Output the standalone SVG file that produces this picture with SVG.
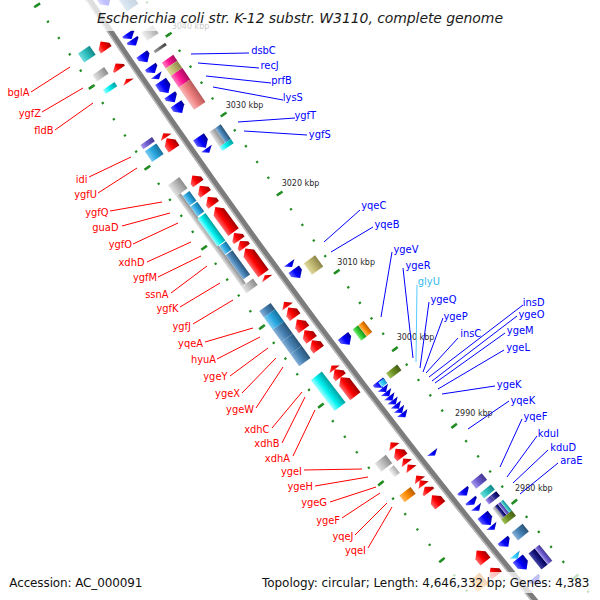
<svg xmlns="http://www.w3.org/2000/svg" width="600" height="600" viewBox="0 0 600 600">
<defs>
<linearGradient id="gR" x1="0" y1="0" x2="1" y2="0"><stop offset="0" stop-color="#ff6a6a"/><stop offset=".45" stop-color="#ff0000"/><stop offset="1" stop-color="#a00000"/></linearGradient>
<linearGradient id="gB" x1="0" y1="0" x2="1" y2="0"><stop offset="0" stop-color="#6060ff"/><stop offset=".45" stop-color="#0000ff"/><stop offset="1" stop-color="#000098"/></linearGradient>
<linearGradient id="gCy" x1="0" y1="0" x2="1" y2="0"><stop offset="0" stop-color="#a0ffff"/><stop offset=".45" stop-color="#00f0f0"/><stop offset="1" stop-color="#00a0a0"/></linearGradient>
<linearGradient id="gTq" x1="0" y1="0" x2="1" y2="0"><stop offset="0" stop-color="#70dcdc"/><stop offset=".45" stop-color="#30c0c0"/><stop offset="1" stop-color="#128888"/></linearGradient>
<linearGradient id="gSk" x1="0" y1="0" x2="1" y2="0"><stop offset="0" stop-color="#80ccf0"/><stop offset=".45" stop-color="#2aa8e2"/><stop offset="1" stop-color="#16709c"/></linearGradient>
<linearGradient id="gSt" x1="0" y1="0" x2="1" y2="0"><stop offset="0" stop-color="#86b0d6"/><stop offset=".45" stop-color="#4682b4"/><stop offset="1" stop-color="#2a5478"/></linearGradient>
<linearGradient id="gGy" x1="0" y1="0" x2="1" y2="0"><stop offset="0" stop-color="#e4e4e4"/><stop offset=".45" stop-color="#bdbdbd"/><stop offset="1" stop-color="#8c8c8c"/></linearGradient>
<linearGradient id="gLg" x1="0" y1="0" x2="1" y2="0"><stop offset="0" stop-color="#f0f0f0"/><stop offset=".45" stop-color="#d4d4d4"/><stop offset="1" stop-color="#a8a8a8"/></linearGradient>
<linearGradient id="gDg" x1="0" y1="0" x2="1" y2="0"><stop offset="0" stop-color="#a0a0a0"/><stop offset=".45" stop-color="#707070"/><stop offset="1" stop-color="#404040"/></linearGradient>
<linearGradient id="gPk" x1="0" y1="0" x2="1" y2="0"><stop offset="0" stop-color="#ff80c0"/><stop offset=".45" stop-color="#ff1493"/><stop offset="1" stop-color="#a80c60"/></linearGradient>
<linearGradient id="gKh" x1="0" y1="0" x2="1" y2="0"><stop offset="0" stop-color="#e0da9e"/><stop offset=".45" stop-color="#c0b870"/><stop offset="1" stop-color="#8a844a"/></linearGradient>
<linearGradient id="gSa" x1="0" y1="0" x2="1" y2="0"><stop offset="0" stop-color="#f8b8b8"/><stop offset=".45" stop-color="#f08080"/><stop offset="1" stop-color="#b85a5a"/></linearGradient>
<linearGradient id="gSl" x1="0" y1="0" x2="1" y2="0"><stop offset="0" stop-color="#a698ec"/><stop offset=".45" stop-color="#6a5acd"/><stop offset="1" stop-color="#443892"/></linearGradient>
<linearGradient id="gNv" x1="0" y1="0" x2="1" y2="0"><stop offset="0" stop-color="#4848a8"/><stop offset=".45" stop-color="#1c1c84"/><stop offset="1" stop-color="#000050"/></linearGradient>
<linearGradient id="gOl" x1="0" y1="0" x2="1" y2="0"><stop offset="0" stop-color="#a0c058"/><stop offset=".45" stop-color="#6b8e23"/><stop offset="1" stop-color="#465e16"/></linearGradient>
<linearGradient id="gGn" x1="0" y1="0" x2="1" y2="0"><stop offset="0" stop-color="#80e880"/><stop offset=".45" stop-color="#32cd32"/><stop offset="1" stop-color="#1e8c1e"/></linearGradient>
<linearGradient id="gOr" x1="0" y1="0" x2="1" y2="0"><stop offset="0" stop-color="#ffb860"/><stop offset=".45" stop-color="#ff8c00"/><stop offset="1" stop-color="#b85e00"/></linearGradient>
<linearGradient id="gLb" x1="0" y1="0" x2="1" y2="0"><stop offset="0" stop-color="#90e4ff"/><stop offset=".45" stop-color="#33ccff"/><stop offset="1" stop-color="#1a8cc0"/></linearGradient>
<g id="lt"><line x1="-1152.5" y1="-3951" x2="-1145.5" y2="-3951"/><line x1="-1059.5" y1="-3951" x2="-1052.5" y2="-3951"/></g>
</defs>
<style>
.r{fill:url(#gR)}.b{fill:url(#gB)}.cy{fill:url(#gCy)}.tq{fill:url(#gTq)}.sk{fill:url(#gSk)}.st{fill:url(#gSt)}
.gy{fill:url(#gGy)}.lg{fill:url(#gLg)}.dg{fill:url(#gDg)}.pk{fill:url(#gPk)}.kh{fill:url(#gKh)}.sa{fill:url(#gSa)}
.sl{fill:url(#gSl)}.nv{fill:url(#gNv)}.ol{fill:url(#gOl)}.gn{fill:url(#gGn)}.or{fill:url(#gOr)}.lb{fill:url(#gLb)}
.dot{fill:none;stroke:#218c21;stroke-width:2.3;stroke-dashoffset:1.1}
.tk{stroke:#218c21;stroke-width:2.5}
.t{font-family:"DejaVu Sans","Liberation Sans",sans-serif;font-size:9.9px}
.tr{fill:#ff0000;text-anchor:end}.tb{fill:#0000ff}.tl{fill:#33bbee}
.cr{stroke:#ff0000;stroke-width:1;fill:none}.cb{stroke:#0000ff;stroke-width:1;fill:none}.cl{stroke:#55ccff;stroke-width:1;fill:none}
.k{font-family:"DejaVu Sans","Liberation Sans",sans-serif;font-size:8px;fill:#2a2a2a}
.ft{font-family:"DejaVu Sans","Liberation Sans",sans-serif;font-size:12px;fill:#111}
</style>
<rect width="600" height="600" fill="#fff"/>

<g id="tick-dots">
<path class="dot" d="M-1149 -3951A7191 7191 0 0 1 -1050.38 -5137.86" stroke-dasharray="2.2 17.429" transform="rotate(-41.199 6042 -3951)"/>
<path class="dot" d="M-1056 -3951A7098 7098 0 0 1 -958.66 -5122.51" stroke-dasharray="2.2 17.175" transform="rotate(-41.199 6042 -3951)"/>
</g>
<g id="long-ticks" class="tk">
<use href="#lt" transform="rotate(-33.379 6042 -3951)"/>
<use href="#lt" transform="rotate(-34.161 6042 -3951)"/>
<use href="#lt" transform="rotate(-34.943 6042 -3951)"/>
<use href="#lt" transform="rotate(-35.725 6042 -3951)"/>
<use href="#lt" transform="rotate(-36.507 6042 -3951)"/>
<use href="#lt" transform="rotate(-37.289 6042 -3951)"/>
<use href="#lt" transform="rotate(-38.071 6042 -3951)"/>
<use href="#lt" transform="rotate(-38.853 6042 -3951)"/>
<use href="#lt" transform="rotate(-39.635 6042 -3951)"/>
</g>

<g id="backbone" fill="none">
<circle cx="6042" cy="-3951" r="7144.5" stroke="#7c7c7c" stroke-width="6"/>
<circle cx="6042" cy="-3951" r="7147" stroke="#b8b8b8" stroke-width="1.6"/>
</g>

<g id="segA" transform="rotate(-34.349 6042 -3951) translate(-1102.5 -3951)">
<rect class="tq" x="-39" y="-58.9" width="14" height="11"/>
<path class="r" d="M-13.5-56.1L-7-50.1V-46.1H-20V-50.1Z"/>
<rect class="gy" x="-39" y="-33" width="14" height="8"/>
<path class="r" d="M-13.5-29.4L-7-24.4V-22.4H-20V-24.4Z"/>
<rect class="cy" x="-39" y="-14.8" width="14" height="5"/>
<path class="r" d="M-13.5-10.7L-7-6.7H-20Z"/>
<rect class="sl" x="-39" y="51.9" width="14" height="5"/>
<rect class="sk" x="-39" y="59.5" width="14" height="13"/>
<path class="r" d="M-13.5 55L-7 60H-20Z"/>
<path class="r" d="M-13.5 61L-7 67V74H-20V67Z"/>
<path class="b" d="M13.5-81L20-87V-100H7V-87Z"/>
<rect class="st" x="25" y="-88" width="14" height="22"/>
<path class="b" d="M13.5-40.7L20-45.7V-47.7H7V-45.7Z"/>
<path class="b" d="M13.5-32.9L20-37.9V-39.9H7V-37.9Z"/>
<rect class="lg" x="25" y="-40.2" width="14" height="10"/>
<rect class="dg" x="25" y="-18.6" width="14" height="3"/>
<path class="b" d="M13.5-12.5L20-18.5V-22.5H7V-18.5Z"/>
<rect class="pk" x="25" y="-4" width="14" height="7"/>
<rect class="kh" x="25" y="3" width="14" height="9"/>
<rect class="pk" x="25" y="12" width="14" height="14"/>
<rect class="sa" x="25" y="26" width="14" height="27"/>
<path class="b" d="M13.5 0.5L20-4.5V-7.5H7V-4.5Z"/>
<path class="b" d="M13.5 8L20 3H7Z"/>
<path class="b" d="M13.5 24.7L20 18.7V10.7H7V18.7Z"/>
<path class="b" d="M13.5 36L20 30V27H7V30Z"/>
<path class="b" d="M13.5 49L20 43V38H7V43Z"/>
<path class="b" d="M13.5 91L20 85V78H7V85Z"/>
<path class="b" d="M13.5 97L20 92H7Z"/>
<rect class="gy" x="25" y="80" width="7" height="18"/>
<rect class="st" x="32" y="80" width="7" height="18"/>
<rect class="cy" x="25" y="98" width="14" height="5"/>
</g>

<g id="segB" transform="rotate(-35.953 6042 -3951) translate(-1102.5 -3951)">
<path class="r" d="M-13.5-94.1L-7-88.1V-84.1H-20V-88.1Z"/>
<path class="r" d="M-13.5-81.4L-7-75.4V-71.4H-20V-75.4Z"/>
<path class="r" d="M-13.5-67.8L-7-61.8V-57.8H-20V-61.8Z"/>
<path class="r" d="M-13.5-55L-7-49V-24H-20V-49Z"/>
<path class="r" d="M-13.5-23L-7-17V-14H-20V-17Z"/>
<path class="r" d="M-13.5-13L-7-8V-5H-20V-8Z"/>
<path class="r" d="M-13.5-4L-7 2V27H-20V2Z"/>
<path class="r" d="M-13.5 29.3L-7 33.3H-20Z"/>
<rect class="gy" x="-39" y="-100.5" width="14" height="14"/>
<rect class="gy" x="-39" y="-86.5" width="5.5" height="111"/>
<rect class="sk" x="-33.5" y="-83.2" width="8.5" height="12"/>
<rect class="sk" x="-33.5" y="-70" width="8.5" height="12"/>
<rect class="cy" x="-35" y="-56" width="10" height="34"/>
<rect class="sk" x="-33.5" y="-21" width="8.5" height="10"/>
<rect class="st" x="-33.5" y="-10" width="8.5" height="30"/>
<rect class="gy" x="-39" y="25" width="14" height="8"/>
<rect class="st" x="-39" y="55" width="14" height="8"/>
<rect class="sk" x="-39" y="63" width="14" height="15"/>
<rect class="st" x="-39" y="78" width="14" height="15"/>
<rect class="st" x="-39" y="93" width="14" height="15"/>
<rect class="st" x="-39" y="108" width="14" height="15"/>
<path class="r" d="M-13.5 62L-7 68H-20Z"/>
<path class="r" d="M-13.5 69L-7 75V81H-20V75Z"/>
<path class="r" d="M-13.5 84L-7 90V96H-20V90Z"/>
<path class="r" d="M-13.5 97L-7 103V109H-20V103Z"/>
<path class="r" d="M-13.5 109.5L-7 115.5V121H-20V115.5Z"/>
<path class="b" d="M13.5 38.5L20 33.5H7Z"/>
<path class="b" d="M13.5 52.3L20 46.3V41.3H7V46.3Z"/>
<rect class="kh" x="25" y="42.5" width="14" height="14"/>
</g>

<g id="segC" transform="rotate(-37.557 6042 -3951) translate(-1102.5 -3951)">
<rect class="cy" x="-39" y="-60" width="14" height="39"/>
<path class="r" d="M-13.5-59L-7-54H-20Z"/>
<path class="r" d="M-13.5-54L-7-48V-44H-20V-48Z"/>
<path class="r" d="M-13.5-44L-7-38V-20H-20V-38Z"/>
<path class="r" d="M-13.5 38L-7 44H-20Z"/>
<path class="r" d="M-13.5 46L-7 52V57H-20V52Z"/>
<rect class="gy" x="-39" y="45" width="14" height="10.5"/>
<rect class="lg" x="-32" y="58" width="7" height="10"/>
<path class="r" d="M-13.5 58.5L-7 64.5H-20Z"/>
<path class="r" d="M-13.5 66L-7 72H-20Z"/>
<path class="r" d="M-13.5 80L-7 86H-20Z"/>
<path class="r" d="M-13.5 86L-7 92H-20Z"/>
<path class="r" d="M-13.5 94L-7 99V101H-20V99Z"/>
<rect class="or" x="-39" y="85.5" width="14" height="8.5"/>
<path class="b" d="M13.5-64.4L20-70.4V-75.4H7V-70.4Z"/>
<rect class="gn" x="25" y="-74.6" width="7" height="14"/>
<rect class="or" x="32" y="-74.6" width="7" height="14"/>
<rect class="ol" x="25" y="-19.6" width="14" height="7"/>
<path class="b" d="M13.5-10L20-15V-18H7V-15Z"/>
<rect class="lb" x="13" y="-17" width="7" height="6"/>
<path class="b" d="M13.5-4.7L20-10H7Z"/>
<path class="b" d="M13.5 0.6L20-4.7H7Z"/>
<path class="b" d="M13.5 5.9L20 0.6H7Z"/>
<path class="b" d="M13.5 11.2L20 5.9H7Z"/>
<path class="b" d="M13.5 16.5L20 11.2H7Z"/>
<path class="b" d="M13.5 21.8L20 16.5H7Z"/>
<path class="b" d="M13.5 27.1L20 21.8H7Z"/>
<path class="b" d="M13.5 75.5L20 71H7Z"/>
</g>

<g id="segD" transform="rotate(-38.92 6042 -3951) translate(-1102.5 -3951)">
<path class="r" d="M-13.5-65L-7-59V-52H-20V-59Z"/>
<path class="r" d="M-13.5 6L-7 12V20H-20V12Z"/>
<path class="r" d="M-13.5 28L-7 34V38H-20V34Z"/>
<rect class="or" x="-39" y="25" width="14" height="14"/>
<rect class="sl" x="25" y="-51" width="14" height="8.5"/>
<path class="b" d="M13.5-43.1L20-48.1V-50.1H7V-48.1Z"/>
<rect class="tq" x="25" y="-36.5" width="14" height="6.5"/>
<rect class="sl" x="25" y="-28" width="7" height="6"/>
<rect class="nv" x="32" y="-28" width="7" height="6"/>
<path class="b" d="M13.5-31.3L20-35.3V-37.3H7V-35.3Z"/>
<path class="b" d="M13.5-23.5L20-28.5H7Z"/>
<rect class="gy" x="25" y="-17" width="3.5" height="14"/>
<rect class="nv" x="28.5" y="-17" width="3.5" height="14"/>
<rect class="sl" x="32" y="-17" width="3.5" height="14"/>
<rect class="tq" x="35.5" y="-17" width="3.5" height="14"/>
<rect class="ol" x="25" y="-3" width="14" height="6.5"/>
<path class="b" d="M13.5-5L20-11V-18H7V-11Z"/>
<path class="b" d="M13.5 1L20-4H7Z"/>
<rect class="st" x="25" y="14" width="14" height="10"/>
<path class="b" d="M13.5 23L20 17V14H7V17Z"/>
<path class="lb" d="M13.5 38L20 33H7Z"/>
<path class="b" d="M13.5 52L20 46V38H7V46Z"/>
<rect class="nv" x="25" y="40.8" width="8" height="20.6"/>
<rect class="sl" x="33" y="40.8" width="6" height="20.6"/>
<path class="b" d="M13.5 71L20 65V63H7V65Z"/>
</g>

<g id="kbp-labels">
<text class="k" x="171.7" y="28.5">3040 kbp</text>
<text class="k" x="225.7" y="107.5">3030 kbp</text>
<text class="k" x="281.7" y="186">3020 kbp</text>
<text class="k" x="337.3" y="264.5">3010 kbp</text>
<text class="k" x="396.7" y="340">3000 kbp</text>
<text class="k" x="455" y="416">2990 kbp</text>
<text class="k" x="515" y="491">2980 kbp</text>
</g>

<g id="overlays" fill="#fff" fill-opacity=".75">
<rect x="86" y="0" width="426" height="31"/>
<rect x="258" y="572" width="336" height="21"/>
</g>

<g id="connectors">
<path class="cr" d="M31 92L70 67M42 112L83 88M55 130L93 103M89 177L131 157M98 193L137 168M110 211L162 202M122 226L170 213M133 244L178 223M147 262L191 242M158 277L201 256M171 293L207 266M180 307L220 283M193 324L233 300M205 342L253 328M217 359L260 337M230 376L268 348M242 393L276 358M256 408L283 367M272 428L302 392M282 443L305 397M293 456L315 410M304 470L362 469M315 486L368 477M330 502L376 487M342 518L380 493M355 535L387 503M368 548L392 507"/>
<path class="cb" d="M191 54L249 53M198 63L259 68M206 76L271 83M213 87L283 100M238 122L295 118M244 131L307 135M324 242L360 210M331 252L373 227M381 317L392 252M413 358L403 268M420 368L429 302M423 372L443 318M426 373L458 338M429 377L523 305M432 381L517 316M435 383L505 333M438 389L504 350M442 394L495 386M468 429L509 401M500 467L522 419M507 477L537 436M513 483L548 450M520 494L558 463"/>
<path class="cl" d="M416 362L417 285"/>
</g>

<g id="labels" class="t">
<text class="tr" x="29.5" y="96">bglA</text>
<text class="tr" x="41" y="116.5">ygfZ</text>
<text class="tr" x="53.5" y="133.5">fldB</text>
<text class="tr" x="87.5" y="182.5">idi</text>
<text class="tr" x="97" y="197.5">ygfU</text>
<text class="tr" x="108.5" y="215.8">ygfQ</text>
<text class="tr" x="118.5" y="230.8">guaD</text>
<text class="tr" x="132" y="247.5">ygfO</text>
<text class="tr" x="144.5" y="265.8">xdhD</text>
<text class="tr" x="157" y="280.8">ygfM</text>
<text class="tr" x="168.5" y="297.5">ssnA</text>
<text class="tr" x="178.5" y="311.8">ygfK</text>
<text class="tr" x="191" y="330.3">ygfJ</text>
<text class="tr" x="203" y="346.8">yqeA</text>
<text class="tr" x="216" y="362.5">hyuA</text>
<text class="tr" x="227.5" y="380.3">ygeY</text>
<text class="tr" x="240" y="396.8">ygeX</text>
<text class="tr" x="254" y="412.5">ygeW</text>
<text class="tr" x="269.5" y="432.5">xdhC</text>
<text class="tr" x="279.5" y="446.8">xdhB</text>
<text class="tr" x="290" y="461.5">xdhA</text>
<text class="tr" x="302" y="474.5">ygeI</text>
<text class="tr" x="313" y="489.8">ygeH</text>
<text class="tr" x="327" y="505.8">ygeG</text>
<text class="tr" x="340" y="523.5">ygeF</text>
<text class="tr" x="353.5" y="539.5">yqeJ</text>
<text class="tr" x="366" y="554.3">yqeI</text>
<text class="tb" x="251.2" y="54.2">dsbC</text>
<text class="tb" x="260.5" y="68.5">recJ</text>
<text class="tb" x="271.2" y="84.2">prfB</text>
<text class="tb" x="282.8" y="100.8">lysS</text>
<text class="tb" x="294.5" y="119.3">ygfT</text>
<text class="tb" x="308.8" y="137.5">ygfS</text>
<text class="tb" x="361.2" y="209.2">yqeC</text>
<text class="tb" x="374.5" y="227.5">yqeB</text>
<text class="tb" x="393.5" y="252.5">ygeV</text>
<text class="tb" x="405.5" y="268.5">ygeR</text>
<text class="tl" x="417.8" y="285.2">glyU</text>
<text class="tb" x="430.5" y="302.5">ygeQ</text>
<text class="tb" x="443.5" y="320.2">ygeP</text>
<text class="tb" x="460.2" y="336.8">insC</text>
<text class="tb" x="522.8" y="305.8">insD</text>
<text class="tb" x="518.5" y="317.5">ygeO</text>
<text class="tb" x="506.8" y="334.2">ygeM</text>
<text class="tb" x="506.2" y="350.8">ygeL</text>
<text class="tb" x="496.8" y="387.5">ygeK</text>
<text class="tb" x="510.5" y="403.5">yqeK</text>
<text class="tb" x="523.5" y="420.2">yqeF</text>
<text class="tb" x="537.8" y="436.8">kduI</text>
<text class="tb" x="550.2" y="450.8">kduD</text>
<text class="tb" x="560.2" y="463.5">araE</text>
</g>

<g id="title-footer">
<text x="97" y="22.7" font-family="'DejaVu Sans','Liberation Sans',sans-serif" font-size="14" font-style="italic" fill="#1a1a1a" textLength="406" lengthAdjust="spacing">Escherichia coli str. K-12 substr. W3110, complete genome</text>
<text class="ft" x="9.3" y="586.7" textLength="133" lengthAdjust="spacing">Accession: AC_000091</text>
<text class="ft" x="262" y="586.7" textLength="327.5" lengthAdjust="spacing">Topology: circular; Length: 4,646,332 bp; Genes: 4,383</text>
</g>
</svg>
